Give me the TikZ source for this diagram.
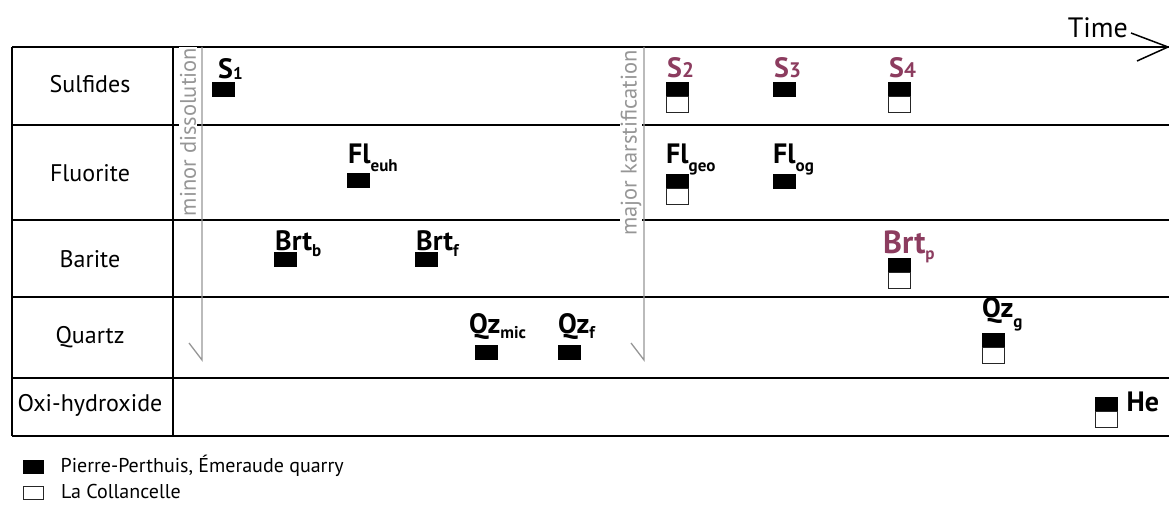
\documentclass[tikz,border=0pt]{standalone}
\usepackage{fontspec}
\setmainfont{PT Sans}
\usetikzlibrary{positioning}
\definecolor{KarstPurple}{RGB}{140,60,95}
\definecolor{EventGray}{RGB}{150,150,150}

\newcommand{\lowsub}[2][7pt]{\raisebox{-#1}{\fontsize{17}{17}\selectfont #2}}
\newcommand{\sdig}[1]{{\fontsize{21}{21}\selectfont #1}}

\begin{document}
\begin{tikzpicture}[
        x=1pt, y=-1pt,
        grid/.style={line width=1.8pt, black},
        rowname/.style={font=\fontsize{24}{26}\selectfont, inner sep=0pt},
        pp/.style={draw=black, fill=black, minimum width=22pt, minimum height=14pt, inner sep=0pt, anchor=north west},
        lc/.style={draw=black!85, fill=white, line width=0.9pt, minimum width=22pt, minimum height=16pt, inner sep=0pt},
        phase/.style={font=\bfseries\fontsize{28}{30}\selectfont, inner sep=0pt, anchor=base west},
        event/.style={EventGray, line width=1.3pt},
        eventtext/.style={text=EventGray, fill=white, rotate=90, inner sep=0.5pt, font=\fontsize{22.5}{24}\selectfont},
        legendtext/.style={font=\fontsize{20}{22}\selectfont, anchor=base west, inner sep=0pt}
    ]
        \useasboundingbox (0,0) rectangle (1169,508);

        % table frame
        \draw[grid] (12,47) -- (1169,47);
        \foreach \y in {125,220,297,378}
            \draw[grid, line width=1.5pt] (12,\y) -- (1169,\y);
        \draw[grid] (12,436) -- (1169,436);
        \draw[grid] (12,47) -- (12,436);
        \draw[grid] (173,47) -- (173,436);

        % time axis
        \node[font=\fontsize{28}{30}\selectfont, inner sep=0pt, anchor=base east] (time) at (1128,38) {Time};
        \coordinate (tip) at (1168,47);
        \draw[grid, line width=1.5pt] ([shift={(3pt,5pt)}]time.base east) -- (tip) -- (1137,61);

        % row names
        \node[rowname] (sulf) at (90,84) {Sulfides};
        \node[rowname] (fluo) at (90,173) {Fluorite};
        \node[rowname] (bari) at (90,259) {Barite};
        \node[rowname] (quar) at (90,337) {Quartz};
        \node[rowname] (oxi) at (90,405) {Oxi-hydroxide};

        % events
        \draw[event] (202,47) -- (202,360) -- (189,343);
        \node[eventtext] (minor) at (188,132) {minor dissolution};
        \draw[event] (644,47) -- (644,360) -- (631,343);
        \node[eventtext] (major) at (631,143) {major karstification};

        % sulfides
        \node[pp] (s1) at (212,82) {};
        \node[phase] (s1t) at ([shift={(6pt,3pt)}]s1.north west) {S\lowsub[1pt]{1}};
        \node[pp] (s2) at (666,82) {};
        \node[lc, below=0pt of s2] (s2c) {};
        \node[phase, text=KarstPurple] (s2t) at ([shift={(1pt,4pt)}]s2.north west) {S\sdig{2}};
        \node[pp] (s3) at (773,82) {};
        \node[phase, text=KarstPurple] (s3t) at ([shift={(1pt,4pt)}]s3.north west) {S\sdig{3}};
        \node[pp] (s4) at (888,82) {};
        \node[lc, below=0pt of s4] (s4c) {};
        \node[phase, text=KarstPurple] (s4t) at ([shift={(1pt,4pt)}]s4.north west) {S\sdig{4}};

        % fluorite
        \node[pp] (fleuh) at (347,173) {};
        \node[phase] (fleuht) at ([shift={(1pt,10pt)}]fleuh.north west) {Fl\lowsub[9pt]{euh}};
        \node[pp] (flgeo) at (666,174) {};
        \node[lc, below=0pt of flgeo] (flgeoc) {};
        \node[phase] (flgeot) at ([shift={(0pt,11pt)}]flgeo.north west) {Fl\lowsub[9pt]{geo}};
        \node[pp] (flog) at (773,174) {};
        \node[phase] (flogt) at ([shift={(0pt,11pt)}]flog.north west) {Fl\lowsub[9pt]{og}};

        % barite
        \node[pp] (brtb) at (274,252) {};
        \node[phase] (brtbt) at ([shift={(1pt,2pt)}]brtb.north west) {Brt\lowsub[6pt]{b}};
        \node[pp] (brtf) at (415,252) {};
        \node[phase] (brtft) at ([shift={(1pt,2pt)}]brtf.north west) {Brt\lowsub[6pt]{f}};
        \node[pp] (brtp) at (888,258) {};
        \node[lc, below=0pt of brtp] (brtpc) {};
        \node[phase, text=KarstPurple, font=\bfseries\fontsize{32}{34}\selectfont] (brtpt) at ([shift={(-5pt,5pt)}]brtp.north west) {Brt\lowsub[6pt]{p}};

        % quartz
        \node[pp] (qzmic) at (475,345) {};
        \node[phase] (qzmict) at ([shift={(-6pt,12pt)}]qzmic.north west) {Qz\lowsub[5pt]{mic}};
        \node[pp] (qzf) at (558,345) {};
        \node[phase] (qzft) at ([shift={(0pt,12pt)}]qzf.north west) {Qz\lowsub[5pt]{f}};
        \node[pp] (qzg) at (982,333) {};
        \node[lc, below=0pt of qzg] (qzgc) {};
        \node[phase] (qzgt) at ([shift={(0pt,16pt)}]qzg.north west) {Qz\lowsub[10pt]{g}};

        % oxi-hydroxide
        \node[pp] (he) at (1095,397) {};
        \node[lc, below=0pt of he] (hec) {};
        \node[phase] (het) at ([shift={(9pt,-14pt)}]he.north east) {He};

        % legend
        \node[pp, minimum width=20pt, minimum height=13pt] (legpp) at (23,460) {};
        \node[legendtext] (legppt) at ([shift={(17pt,-6pt)}]legpp.east) {Pierre-Perthuis, Émeraude quarry};
        \node[lc, anchor=north west, minimum width=20pt, minimum height=13pt] (leglc) at (23,486) {};
        \node[legendtext] (leglct) at ([shift={(17pt,-6pt)}]leglc.east) {La Collancelle};
    \end{tikzpicture}
\end{document}
